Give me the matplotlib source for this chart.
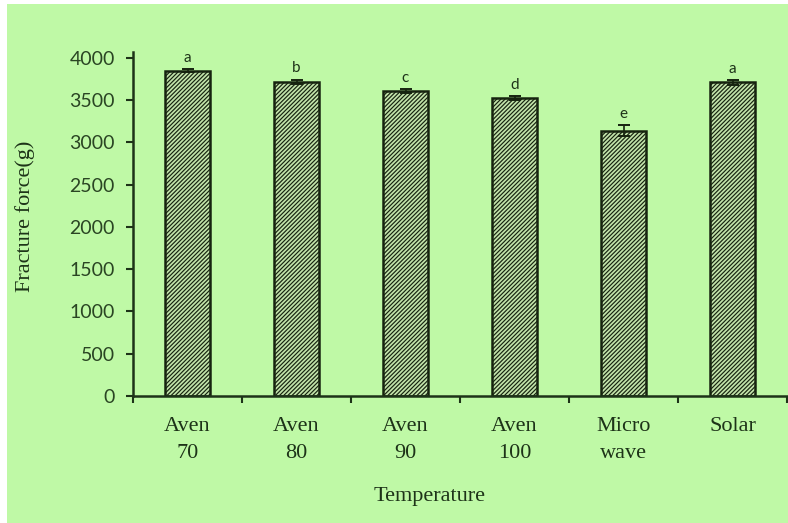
import matplotlib
matplotlib.use("Agg")
import matplotlib.pyplot as plt
from matplotlib.patches import Rectangle
import numpy as np

categories = ["Aven\n70", "Aven\n80", "Aven\n90", "Aven\n100", "Micro\nwave", "Solar"]
fracture_force = [3850, 3715, 3610, 3525, 3140, 3710]
std_error = [18, 28, 22, 22, 65, 28]
groups = ["a", "b", "c", "d", "e", "a"]
y_ticks = [0, 500, 1000, 1500, 2000, 2500, 3000, 3500, 4000]

BG = "#bff9a6"
INK = "#1d3318"
plt.rcParams["hatch.linewidth"] = 0.85
plt.rcParams["hatch.color"] = "#45663a"

fig = plt.figure(figsize=(7.88, 5.23), dpi=100)
fig.patch.set_facecolor("white")
# green panel behind the chart
fig.patches.append(Rectangle((7 / 788, -0.01), 1, 1.01 - 4 / 523, transform=fig.transFigure,
                             facecolor=BG, edgecolor="none", zorder=-10))

ax = fig.add_axes([133 / 788, 127 / 523, (787 - 133) / 788, (396 - 52) / 523])
ax.set_facecolor("none")

x = np.arange(len(categories))
ax.bar(x, fracture_force, width=0.41, facecolor="#c2e3aa", edgecolor="#16230f",
       linewidth=1.8, hatch="////////", zorder=2)
ax.errorbar(x, fracture_force, yerr=std_error, fmt="none", ecolor="#16230f",
            elinewidth=1.2, capsize=4, capthick=1.4, zorder=3)

for xi, v, e, g in zip(x, fracture_force, std_error, groups):
    ax.annotate(g, (xi, v + e), xytext=(0, 3), textcoords="offset points",
                ha="center", va="bottom", fontsize=11, family="Lato", color=INK)

ax.set_xlim(-0.5, len(categories) - 0.5)
ax.set_ylim(0, 4070)
ax.set_yticks(y_ticks)
ax.set_yticklabels([str(t) for t in y_ticks], family="Lato", fontsize=14, color="#2a4523")
ax.set_xticks(x)
ax.set_xticklabels(categories, family="Liberation Serif", fontsize=16, color=INK,
                   linespacing=1.55)
ax.set_xticks(np.arange(len(categories) + 1) - 0.5, minor=True)
ax.tick_params(axis="x", which="major", length=0, pad=15)
ax.tick_params(axis="x", which="minor", length=5, width=1.5, direction="out", color=INK)
ax.tick_params(axis="y", length=5, width=1.5, direction="out", color=INK, pad=8)

for side in ("top", "right"):
    ax.spines[side].set_visible(False)
for side in ("left", "bottom"):
    ax.spines[side].set_color(INK)
    ax.spines[side].set_linewidth(1.8)

fig.text(25 / 788, 1 - 216 / 523, "Fracture force(g)", rotation=90, ha="center",
         va="center", family="Liberation Serif", fontsize=16, color=INK)
fig.text(430 / 788, 1 - 497 / 523, "Temperature", ha="center", va="center",
         family="Liberation Serif", fontsize=16, color=INK)

fig.savefig("out.png", dpi=100, facecolor=fig.get_facecolor())
